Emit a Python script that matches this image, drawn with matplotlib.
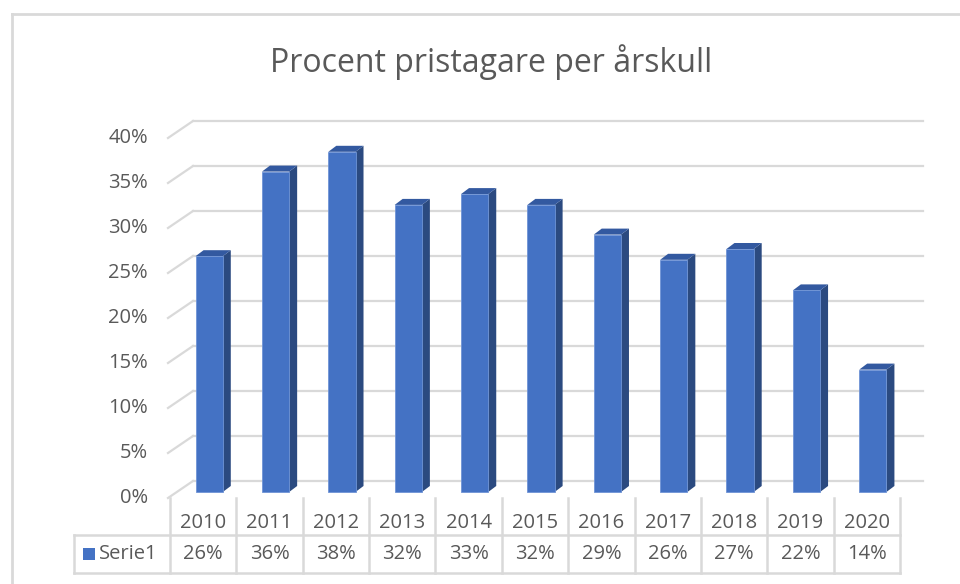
import numpy as np
import matplotlib
matplotlib.use('Agg')
import matplotlib.pyplot as plt
from matplotlib.patches import Polygon, Rectangle
from matplotlib.transforms import IdentityTransform


# data
YEARS = ['2010', '2011', '2012', '2013', '2014', '2015',
         '2016', '2017', '2018', '2019', '2020']
SHARE = [0.262, 0.356, 0.378, 0.319, 0.331, 0.319,
         0.286, 0.258, 0.270, 0.224, 0.136]
SERIES = 'Serie1'
TITLE = 'Procent pristagare per årskull'
YTICKS = [0.0, 0.05, 0.10, 0.15, 0.20, 0.25, 0.30, 0.35, 0.40]


# colours
FRONT = '#4472C4'
SIDE = '#2B4A80'
TOP = '#3359A0'
GRID = '#D9D9D9'
TEXT = '#595959'

# pseudo 3d offsets in pixels
BACK_DX, BACK_DY = 23, 17     # front plane -> back wall
BAR_DX, BAR_DY = 6, 6         # front plane -> bar front face
SIDE_DX, SIDE_DY = 8, 6       # bar depth
WIDTH = 0.41
FS = 14.5

W, H = 960, 584
fig = plt.figure(figsize=(W / 100, H / 100), dpi=100)
plt.rcParams['font.family'] = ['Open Sans', 'DejaVu Sans']

# axes = front plane of the plot area
ax = fig.add_axes([170 / W, (H - 498) / H, 730 / W, 360 / H])
ax.set_xlim(-0.5, len(YEARS) - 0.5)
ax.set_ylim(0, 0.40)
ax.axis('off')


def px(x, y):
    # data -> pixel (display) coordinates
    return ax.transData.transform((x, y))


ident = IdentityTransform()

# back wall gridlines and left floor/wall edge
for v in YTICKS:
    x0, y0 = px(-0.5, v)
    x1, y1 = px(len(YEARS) - 0.5, v)
    ax.plot([x0 + BACK_DX, x1 + BACK_DX], [y0 + BACK_DY, y1 + BACK_DY],
            color=GRID, lw=1.6, transform=ident, clip_on=False, zorder=1)
    ax.plot([x0 - 2, x0 + BACK_DX], [y0, y0 + BACK_DY],
            color=GRID, lw=1.6, transform=ident, clip_on=False, zorder=1)
    ax.text(x0 - 22, y0, '{:.0f}%'.format(v * 100), transform=ident,
            ha='right', va='center', fontsize=FS, color=TEXT)

# bars
for i, v in enumerate(SHARE):
    xl, yb = px(i - WIDTH / 2, 0)
    xr, yt = px(i + WIDTH / 2, v)
    xl, xr = xl + BAR_DX, xr + BAR_DX
    yb, yt = yb + BAR_DY, yt + BAR_DY
    side = [(xr, yb), (xr + SIDE_DX, yb + SIDE_DY),
            (xr + SIDE_DX, yt + SIDE_DY), (xr, yt)]
    top = [(xl, yt), (xl + SIDE_DX, yt + SIDE_DY),
           (xr + SIDE_DX, yt + SIDE_DY), (xr, yt)]
    ax.add_patch(Polygon(side, closed=True, fc=SIDE, ec='none',
                         transform=ident, clip_on=False, zorder=3))
    ax.add_patch(Polygon(top, closed=True, fc=TOP, ec='none',
                         transform=ident, clip_on=False, zorder=3))
    ax.add_patch(Rectangle((xl, yb), xr - xl, yt - yb, fc=FRONT,
                           ec='#6F94D6', lw=0.6, transform=ident,
                           clip_on=False, zorder=3))

# data table
_, y_floor = px(0, 0)
row1 = y_floor - 37
row2 = row1 - 38
x_left = 74
bounds = [px(i - 0.5, 0)[0] for i in range(len(YEARS) + 1)]
for b in bounds:
    ax.plot([b, b], [y_floor, row2], color=GRID, lw=1.8,
            transform=ident, clip_on=False)
ax.plot([x_left, x_left], [row1, row2], color=GRID, lw=1.8,
        transform=ident, clip_on=False)
for yy in (row1, row2):
    ax.plot([x_left, bounds[-1]], [yy, yy], color=GRID, lw=1.8,
            transform=ident, clip_on=False)
for i, (yr, v) in enumerate(zip(YEARS, SHARE)):
    xc = px(i, 0)[0]
    ax.text(xc, (y_floor + row1) / 2 - 6, yr, transform=ident,
            ha='center', va='center', fontsize=FS, color=TEXT)
    ax.text(xc, (row1 + row2) / 2, '{:.0f}%'.format(v * 100),
            transform=ident, ha='center', va='center', fontsize=FS,
            color=TEXT)
ym = (row1 + row2) / 2
ax.add_patch(Rectangle((83, ym - 6), 12, 12, fc=FRONT, ec='none',
                       transform=ident, clip_on=False))
ax.text(99, ym, SERIES, transform=ident, ha='left', va='center',
        fontsize=FS, color=TEXT)

# title
fig.text(491 / W, (H - 62) / H, TITLE, ha='center', va='center',
         fontsize=23, color=TEXT)

# chart frame (cropped screenshot: only top and left edges visible)
fig.add_artist(plt.Line2D([12 / W, 12 / W], [0, (H - 14) / H],
                          color=GRID, lw=2, transform=fig.transFigure))
fig.add_artist(plt.Line2D([12 / W, 1], [(H - 14) / H, (H - 14) / H],
                          color=GRID, lw=2, transform=fig.transFigure))

fig.savefig('out.png', dpi=100)
